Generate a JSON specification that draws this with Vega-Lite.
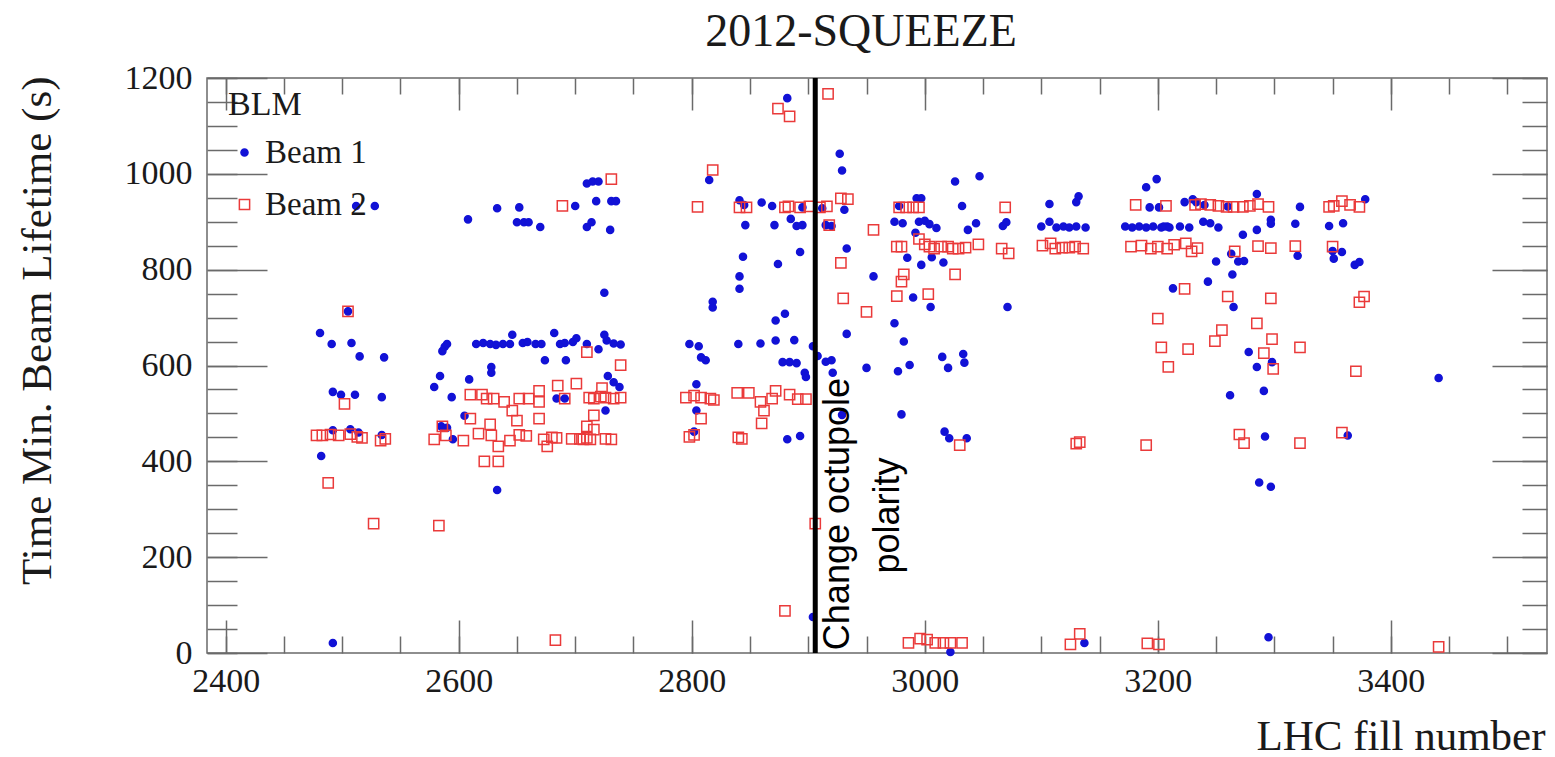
{
"$schema": "https://vega.github.io/schema/vega-lite/v6.json",
"width": 1340, "height": 575,
"autosize": "none",
"padding": {"left": 207, "top": 78, "right": 8, "bottom": 104},
"background": "white",
"config": {"view": {"stroke": "#6a6a6a", "strokeWidth": 1.5},
 "legend": {"orient": "none", "legendX": 21, "legendY": 10, "titleFont": "Liberation Serif", "titleFontSize": 34, "titleFontWeight": "normal", "titleColor": "#1a1a1a", "titlePadding": 14, "labelFont": "Liberation Serif", "labelFontSize": 33, "labelColor": "#1a1a1a", "labelOffset": 4, "symbolOffset": 0, "symbolStrokeWidth": 1.5, "rowPadding": 18, "padding": 0}},
"title": {"text": "2012-SQUEEZE", "font": "Liberation Serif", "fontSize": 46, "fontWeight": "normal", "color": "#1a1a1a", "anchor": "middle", "frame": "group", "dx": -16, "dy": 45, "offset": 14, "baseline": "alphabetic"},
"resolve": {"axis": {"x": "independent", "y": "independent"}},
"layer": [
{
"data": {"values": [
{"lhc_fill":2512,"lifetime":933,"beam":"Beam 1"},{"lhc_fill":2528,"lifetime":933,"beam":"Beam 1"},{"lhc_fill":2608,"lifetime":905,"beam":"Beam 1"},{"lhc_fill":2633,"lifetime":928,"beam":"Beam 1"},{"lhc_fill":2652,"lifetime":930,"beam":"Beam 1"},{"lhc_fill":2650,"lifetime":899,"beam":"Beam 1"},{"lhc_fill":2656,"lifetime":899,"beam":"Beam 1"},{"lhc_fill":2660,"lifetime":899,"beam":"Beam 1"},{"lhc_fill":2670,"lifetime":889,"beam":"Beam 1"},{"lhc_fill":2700,"lifetime":933,"beam":"Beam 1"},{"lhc_fill":2710,"lifetime":980,"beam":"Beam 1"},{"lhc_fill":2710,"lifetime":889,"beam":"Beam 1"},
{"lhc_fill":2505,"lifetime":713,"beam":"Beam 1"},{"lhc_fill":2481,"lifetime":668,"beam":"Beam 1"},{"lhc_fill":2491,"lifetime":645,"beam":"Beam 1"},{"lhc_fill":2508,"lifetime":647,"beam":"Beam 1"},{"lhc_fill":2515,"lifetime":619,"beam":"Beam 1"},{"lhc_fill":2536,"lifetime":617,"beam":"Beam 1"},{"lhc_fill":2492,"lifetime":545,"beam":"Beam 1"},{"lhc_fill":2499,"lifetime":539,"beam":"Beam 1"},{"lhc_fill":2511,"lifetime":539,"beam":"Beam 1"},{"lhc_fill":2534,"lifetime":534,"beam":"Beam 1"},{"lhc_fill":2482,"lifetime":411,"beam":"Beam 1"},
{"lhc_fill":2492,"lifetime":465,"beam":"Beam 1"},{"lhc_fill":2507,"lifetime":467,"beam":"Beam 1"},{"lhc_fill":2514,"lifetime":460,"beam":"Beam 1"},{"lhc_fill":2534,"lifetime":455,"beam":"Beam 1"},{"lhc_fill":2492,"lifetime":21,"beam":"Beam 1"},
{"lhc_fill":2588,"lifetime":639,"beam":"Beam 1"},{"lhc_fill":2590,"lifetime":645,"beam":"Beam 1"},{"lhc_fill":2586,"lifetime":630,"beam":"Beam 1"},{"lhc_fill":2584,"lifetime":578,"beam":"Beam 1"},{"lhc_fill":2579,"lifetime":555,"beam":"Beam 1"},{"lhc_fill":2594,"lifetime":534,"beam":"Beam 1"},{"lhc_fill":2609,"lifetime":571,"beam":"Beam 1"},{"lhc_fill":2605,"lifetime":495,"beam":"Beam 1"},{"lhc_fill":2585,"lifetime":473,"beam":"Beam 1"},{"lhc_fill":2590,"lifetime":470,"beam":"Beam 1"},{"lhc_fill":2595,"lifetime":446,"beam":"Beam 1"},{"lhc_fill":2628,"lifetime":597,"beam":"Beam 1"},{"lhc_fill":2628,"lifetime":585,"beam":"Beam 1"},{"lhc_fill":2633,"lifetime":340,"beam":"Beam 1"},
{"lhc_fill":2615,"lifetime":645,"beam":"Beam 1"},{"lhc_fill":2621,"lifetime":647,"beam":"Beam 1"},{"lhc_fill":2627,"lifetime":645,"beam":"Beam 1"},{"lhc_fill":2632,"lifetime":643,"beam":"Beam 1"},{"lhc_fill":2638,"lifetime":645,"beam":"Beam 1"},{"lhc_fill":2644,"lifetime":645,"beam":"Beam 1"},{"lhc_fill":2646,"lifetime":664,"beam":"Beam 1"},{"lhc_fill":2655,"lifetime":647,"beam":"Beam 1"},{"lhc_fill":2659,"lifetime":649,"beam":"Beam 1"},{"lhc_fill":2666,"lifetime":645,"beam":"Beam 1"},{"lhc_fill":2671,"lifetime":645,"beam":"Beam 1"},{"lhc_fill":2674,"lifetime":611,"beam":"Beam 1"},{"lhc_fill":2682,"lifetime":668,"beam":"Beam 1"},{"lhc_fill":2687,"lifetime":645,"beam":"Beam 1"},{"lhc_fill":2691,"lifetime":647,"beam":"Beam 1"},{"lhc_fill":2692,"lifetime":611,"beam":"Beam 1"},{"lhc_fill":2698,"lifetime":649,"beam":"Beam 1"},{"lhc_fill":2701,"lifetime":657,"beam":"Beam 1"},{"lhc_fill":2710,"lifetime":645,"beam":"Beam 1"},{"lhc_fill":2684,"lifetime":531,"beam":"Beam 1"},{"lhc_fill":2691,"lifetime":531,"beam":"Beam 1"},
{"lhc_fill":2882,"lifetime":1158,"beam":"Beam 1"},{"lhc_fill":2715,"lifetime":984,"beam":"Beam 1"},{"lhc_fill":2720,"lifetime":984,"beam":"Beam 1"},{"lhc_fill":2718,"lifetime":943,"beam":"Beam 1"},{"lhc_fill":2731,"lifetime":943,"beam":"Beam 1"},{"lhc_fill":2735,"lifetime":943,"beam":"Beam 1"},{"lhc_fill":2714,"lifetime":899,"beam":"Beam 1"},{"lhc_fill":2730,"lifetime":883,"beam":"Beam 1"},{"lhc_fill":2725,"lifetime":752,"beam":"Beam 1"},{"lhc_fill":2720,"lifetime":634,"beam":"Beam 1"},{"lhc_fill":2725,"lifetime":664,"beam":"Beam 1"},{"lhc_fill":2727,"lifetime":652,"beam":"Beam 1"},{"lhc_fill":2733,"lifetime":646,"beam":"Beam 1"},{"lhc_fill":2739,"lifetime":644,"beam":"Beam 1"},{"lhc_fill":2728,"lifetime":578,"beam":"Beam 1"},{"lhc_fill":2733,"lifetime":565,"beam":"Beam 1"},{"lhc_fill":2738,"lifetime":555,"beam":"Beam 1"},{"lhc_fill":2726,"lifetime":506,"beam":"Beam 1"},
{"lhc_fill":2815,"lifetime":987,"beam":"Beam 1"},{"lhc_fill":2841,"lifetime":945,"beam":"Beam 1"},{"lhc_fill":2845,"lifetime":935,"beam":"Beam 1"},{"lhc_fill":2860,"lifetime":940,"beam":"Beam 1"},{"lhc_fill":2869,"lifetime":933,"beam":"Beam 1"},{"lhc_fill":2885,"lifetime":906,"beam":"Beam 1"},{"lhc_fill":2890,"lifetime":891,"beam":"Beam 1"},{"lhc_fill":2895,"lifetime":893,"beam":"Beam 1"},{"lhc_fill":2915,"lifetime":893,"beam":"Beam 1"},{"lhc_fill":2920,"lifetime":891,"beam":"Beam 1"},{"lhc_fill":2846,"lifetime":893,"beam":"Beam 1"},{"lhc_fill":2871,"lifetime":893,"beam":"Beam 1"},{"lhc_fill":2931,"lifetime":925,"beam":"Beam 1"},{"lhc_fill":2927,"lifetime":1042,"beam":"Beam 1"},{"lhc_fill":2929,"lifetime":1007,"beam":"Beam 1"},{"lhc_fill":2933,"lifetime":844,"beam":"Beam 1"},{"lhc_fill":2956,"lifetime":786,"beam":"Beam 1"},{"lhc_fill":2844,"lifetime":827,"beam":"Beam 1"},{"lhc_fill":2841,"lifetime":786,"beam":"Beam 1"},{"lhc_fill":2841,"lifetime":760,"beam":"Beam 1"},{"lhc_fill":2874,"lifetime":812,"beam":"Beam 1"},{"lhc_fill":2893,"lifetime":837,"beam":"Beam 1"},{"lhc_fill":2818,"lifetime":733,"beam":"Beam 1"},{"lhc_fill":2818,"lifetime":721,"beam":"Beam 1"},{"lhc_fill":2872,"lifetime":694,"beam":"Beam 1"},{"lhc_fill":2880,"lifetime":708,"beam":"Beam 1"},{"lhc_fill":2798,"lifetime":645,"beam":"Beam 1"},{"lhc_fill":2806,"lifetime":640,"beam":"Beam 1"},{"lhc_fill":2808,"lifetime":617,"beam":"Beam 1"},{"lhc_fill":2812,"lifetime":611,"beam":"Beam 1"},{"lhc_fill":2840,"lifetime":645,"beam":"Beam 1"},{"lhc_fill":2859,"lifetime":646,"beam":"Beam 1"},{"lhc_fill":2872,"lifetime":652,"beam":"Beam 1"},{"lhc_fill":2888,"lifetime":653,"beam":"Beam 1"},{"lhc_fill":2904,"lifetime":640,"beam":"Beam 1"},{"lhc_fill":2908,"lifetime":620,"beam":"Beam 1"},{"lhc_fill":2915,"lifetime":608,"beam":"Beam 1"},{"lhc_fill":2920,"lifetime":611,"beam":"Beam 1"},{"lhc_fill":2878,"lifetime":607,"beam":"Beam 1"},{"lhc_fill":2884,"lifetime":607,"beam":"Beam 1"},{"lhc_fill":2890,"lifetime":605,"beam":"Beam 1"},{"lhc_fill":2897,"lifetime":585,"beam":"Beam 1"},{"lhc_fill":2898,"lifetime":576,"beam":"Beam 1"},{"lhc_fill":2921,"lifetime":585,"beam":"Beam 1"},{"lhc_fill":2950,"lifetime":595,"beam":"Beam 1"},{"lhc_fill":2933,"lifetime":666,"beam":"Beam 1"},{"lhc_fill":2804,"lifetime":561,"beam":"Beam 1"},{"lhc_fill":2804,"lifetime":506,"beam":"Beam 1"},{"lhc_fill":2802,"lifetime":462,"beam":"Beam 1"},{"lhc_fill":2882,"lifetime":446,"beam":"Beam 1"},{"lhc_fill":2893,"lifetime":453,"beam":"Beam 1"},{"lhc_fill":2929,"lifetime":497,"beam":"Beam 1"},{"lhc_fill":2904,"lifetime":75,"beam":"Beam 1"},{"lhc_fill":2895,"lifetime":930,"beam":"Beam 1"},{"lhc_fill":2912,"lifetime":928,"beam":"Beam 1"},
{"lhc_fill":3026,"lifetime":984,"beam":"Beam 1"},{"lhc_fill":3047,"lifetime":995,"beam":"Beam 1"},{"lhc_fill":2993,"lifetime":949,"beam":"Beam 1"},{"lhc_fill":2997,"lifetime":949,"beam":"Beam 1"},{"lhc_fill":2978,"lifetime":933,"beam":"Beam 1"},{"lhc_fill":3032,"lifetime":933,"beam":"Beam 1"},{"lhc_fill":2974,"lifetime":900,"beam":"Beam 1"},{"lhc_fill":2981,"lifetime":897,"beam":"Beam 1"},{"lhc_fill":2995,"lifetime":900,"beam":"Beam 1"},{"lhc_fill":3000,"lifetime":902,"beam":"Beam 1"},{"lhc_fill":3004,"lifetime":895,"beam":"Beam 1"},{"lhc_fill":3010,"lifetime":887,"beam":"Beam 1"},{"lhc_fill":2992,"lifetime":877,"beam":"Beam 1"},{"lhc_fill":3037,"lifetime":883,"beam":"Beam 1"},{"lhc_fill":3044,"lifetime":897,"beam":"Beam 1"},{"lhc_fill":3067,"lifetime":891,"beam":"Beam 1"},{"lhc_fill":3070,"lifetime":899,"beam":"Beam 1"},{"lhc_fill":3107,"lifetime":937,"beam":"Beam 1"},{"lhc_fill":3132,"lifetime":953,"beam":"Beam 1"},{"lhc_fill":3130,"lifetime":941,"beam":"Beam 1"},{"lhc_fill":3100,"lifetime":890,"beam":"Beam 1"},{"lhc_fill":3107,"lifetime":900,"beam":"Beam 1"},{"lhc_fill":3113,"lifetime":888,"beam":"Beam 1"},{"lhc_fill":3119,"lifetime":890,"beam":"Beam 1"},{"lhc_fill":3124,"lifetime":888,"beam":"Beam 1"},{"lhc_fill":3130,"lifetime":890,"beam":"Beam 1"},{"lhc_fill":3138,"lifetime":888,"beam":"Beam 1"},{"lhc_fill":3190,"lifetime":972,"beam":"Beam 1"},{"lhc_fill":3199,"lifetime":989,"beam":"Beam 1"},{"lhc_fill":3193,"lifetime":930,"beam":"Beam 1"},{"lhc_fill":3201,"lifetime":930,"beam":"Beam 1"},{"lhc_fill":3172,"lifetime":890,"beam":"Beam 1"},{"lhc_fill":3178,"lifetime":888,"beam":"Beam 1"},{"lhc_fill":3184,"lifetime":890,"beam":"Beam 1"},{"lhc_fill":3190,"lifetime":888,"beam":"Beam 1"},{"lhc_fill":3196,"lifetime":890,"beam":"Beam 1"},{"lhc_fill":3203,"lifetime":888,"beam":"Beam 1"},{"lhc_fill":3208,"lifetime":890,"beam":"Beam 1"},
{"lhc_fill":2985,"lifetime":825,"beam":"Beam 1"},{"lhc_fill":2997,"lifetime":810,"beam":"Beam 1"},{"lhc_fill":3006,"lifetime":826,"beam":"Beam 1"},{"lhc_fill":3016,"lifetime":815,"beam":"Beam 1"},{"lhc_fill":2990,"lifetime":742,"beam":"Beam 1"},{"lhc_fill":3005,"lifetime":722,"beam":"Beam 1"},{"lhc_fill":3071,"lifetime":722,"beam":"Beam 1"},{"lhc_fill":2974,"lifetime":688,"beam":"Beam 1"},{"lhc_fill":2982,"lifetime":650,"beam":"Beam 1"},{"lhc_fill":2977,"lifetime":588,"beam":"Beam 1"},{"lhc_fill":2987,"lifetime":601,"beam":"Beam 1"},{"lhc_fill":3015,"lifetime":618,"beam":"Beam 1"},{"lhc_fill":3020,"lifetime":595,"beam":"Beam 1"},{"lhc_fill":3033,"lifetime":624,"beam":"Beam 1"},{"lhc_fill":3034,"lifetime":606,"beam":"Beam 1"},{"lhc_fill":2980,"lifetime":498,"beam":"Beam 1"},{"lhc_fill":3017,"lifetime":462,"beam":"Beam 1"},{"lhc_fill":3021,"lifetime":448,"beam":"Beam 1"},{"lhc_fill":3036,"lifetime":448,"beam":"Beam 1"},{"lhc_fill":3022,"lifetime":2,"beam":"Beam 1"},{"lhc_fill":3137,"lifetime":21,"beam":"Beam 1"},
{"lhc_fill":3285,"lifetime":958,"beam":"Beam 1"},{"lhc_fill":3378,"lifetime":947,"beam":"Beam 1"},{"lhc_fill":3322,"lifetime":931,"beam":"Beam 1"},{"lhc_fill":3223,"lifetime":941,"beam":"Beam 1"},{"lhc_fill":3230,"lifetime":947,"beam":"Beam 1"},{"lhc_fill":3233,"lifetime":941,"beam":"Beam 1"},{"lhc_fill":3205,"lifetime":890,"beam":"Beam 1"},{"lhc_fill":3210,"lifetime":888,"beam":"Beam 1"},{"lhc_fill":3219,"lifetime":890,"beam":"Beam 1"},{"lhc_fill":3227,"lifetime":888,"beam":"Beam 1"},{"lhc_fill":3239,"lifetime":900,"beam":"Beam 1"},{"lhc_fill":3245,"lifetime":897,"beam":"Beam 1"},{"lhc_fill":3252,"lifetime":888,"beam":"Beam 1"},{"lhc_fill":3273,"lifetime":873,"beam":"Beam 1"},{"lhc_fill":3285,"lifetime":883,"beam":"Beam 1"},{"lhc_fill":3297,"lifetime":904,"beam":"Beam 1"},{"lhc_fill":3297,"lifetime":896,"beam":"Beam 1"},{"lhc_fill":3318,"lifetime":896,"beam":"Beam 1"},{"lhc_fill":3347,"lifetime":891,"beam":"Beam 1"},{"lhc_fill":3359,"lifetime":897,"beam":"Beam 1"},{"lhc_fill":3250,"lifetime":817,"beam":"Beam 1"},{"lhc_fill":3263,"lifetime":833,"beam":"Beam 1"},{"lhc_fill":3269,"lifetime":817,"beam":"Beam 1"},{"lhc_fill":3274,"lifetime":818,"beam":"Beam 1"},{"lhc_fill":3264,"lifetime":790,"beam":"Beam 1"},{"lhc_fill":3243,"lifetime":775,"beam":"Beam 1"},{"lhc_fill":3320,"lifetime":829,"beam":"Beam 1"},{"lhc_fill":3350,"lifetime":839,"beam":"Beam 1"},{"lhc_fill":3351,"lifetime":823,"beam":"Beam 1"},{"lhc_fill":3358,"lifetime":837,"beam":"Beam 1"},{"lhc_fill":3369,"lifetime":810,"beam":"Beam 1"},{"lhc_fill":3373,"lifetime":816,"beam":"Beam 1"},{"lhc_fill":3213,"lifetime":761,"beam":"Beam 1"},{"lhc_fill":3265,"lifetime":722,"beam":"Beam 1"},{"lhc_fill":3278,"lifetime":628,"beam":"Beam 1"},{"lhc_fill":3285,"lifetime":597,"beam":"Beam 1"},{"lhc_fill":3298,"lifetime":607,"beam":"Beam 1"},{"lhc_fill":3262,"lifetime":538,"beam":"Beam 1"},{"lhc_fill":3291,"lifetime":547,"beam":"Beam 1"},{"lhc_fill":3292,"lifetime":452,"beam":"Beam 1"},{"lhc_fill":3363,"lifetime":454,"beam":"Beam 1"},{"lhc_fill":3287,"lifetime":356,"beam":"Beam 1"},{"lhc_fill":3297,"lifetime":347,"beam":"Beam 1"},{"lhc_fill":3441,"lifetime":574,"beam":"Beam 1"},{"lhc_fill":3295,"lifetime":33,"beam":"Beam 1"},{"lhc_fill":3240,"lifetime":935,"beam":"Beam 1"},{"lhc_fill":3260,"lifetime":932,"beam":"Beam 1"},
{"lhc_fill":2505,"lifetime":713,"beam":"Beam 2"},{"lhc_fill":2502,"lifetime":520,"beam":"Beam 2"},{"lhc_fill":2478,"lifetime":454,"beam":"Beam 2"},{"lhc_fill":2483,"lifetime":454,"beam":"Beam 2"},{"lhc_fill":2490,"lifetime":456,"beam":"Beam 2"},{"lhc_fill":2497,"lifetime":454,"beam":"Beam 2"},{"lhc_fill":2507,"lifetime":457,"beam":"Beam 2"},{"lhc_fill":2513,"lifetime":451,"beam":"Beam 2"},{"lhc_fill":2517,"lifetime":449,"beam":"Beam 2"},{"lhc_fill":2533,"lifetime":443,"beam":"Beam 2"},{"lhc_fill":2537,"lifetime":447,"beam":"Beam 2"},{"lhc_fill":2488,"lifetime":355,"beam":"Beam 2"},{"lhc_fill":2527,"lifetime":270,"beam":"Beam 2"},{"lhc_fill":2583,"lifetime":266,"beam":"Beam 2"},{"lhc_fill":2683,"lifetime":27,"beam":"Beam 2"},{"lhc_fill":2689,"lifetime":933,"beam":"Beam 2"},
{"lhc_fill":2579,"lifetime":446,"beam":"Beam 2"},{"lhc_fill":2586,"lifetime":473,"beam":"Beam 2"},{"lhc_fill":2589,"lifetime":454,"beam":"Beam 2"},{"lhc_fill":2604,"lifetime":443,"beam":"Beam 2"},{"lhc_fill":2610,"lifetime":539,"beam":"Beam 2"},{"lhc_fill":2610,"lifetime":489,"beam":"Beam 2"},{"lhc_fill":2620,"lifetime":539,"beam":"Beam 2"},{"lhc_fill":2624,"lifetime":531,"beam":"Beam 2"},{"lhc_fill":2630,"lifetime":531,"beam":"Beam 2"},{"lhc_fill":2617,"lifetime":458,"beam":"Beam 2"},{"lhc_fill":2627,"lifetime":477,"beam":"Beam 2"},{"lhc_fill":2628,"lifetime":454,"beam":"Beam 2"},{"lhc_fill":2634,"lifetime":431,"beam":"Beam 2"},{"lhc_fill":2622,"lifetime":400,"beam":"Beam 2"},{"lhc_fill":2634,"lifetime":400,"beam":"Beam 2"},{"lhc_fill":2639,"lifetime":524,"beam":"Beam 2"},{"lhc_fill":2646,"lifetime":506,"beam":"Beam 2"},{"lhc_fill":2650,"lifetime":485,"beam":"Beam 2"},{"lhc_fill":2652,"lifetime":531,"beam":"Beam 2"},{"lhc_fill":2660,"lifetime":531,"beam":"Beam 2"},{"lhc_fill":2644,"lifetime":443,"beam":"Beam 2"},{"lhc_fill":2652,"lifetime":455,"beam":"Beam 2"},{"lhc_fill":2658,"lifetime":453,"beam":"Beam 2"},{"lhc_fill":2669,"lifetime":547,"beam":"Beam 2"},{"lhc_fill":2669,"lifetime":524,"beam":"Beam 2"},{"lhc_fill":2669,"lifetime":489,"beam":"Beam 2"},{"lhc_fill":2673,"lifetime":446,"beam":"Beam 2"},{"lhc_fill":2676,"lifetime":431,"beam":"Beam 2"},{"lhc_fill":2680,"lifetime":450,"beam":"Beam 2"},{"lhc_fill":2684,"lifetime":449,"beam":"Beam 2"},{"lhc_fill":2685,"lifetime":558,"beam":"Beam 2"},{"lhc_fill":2691,"lifetime":531,"beam":"Beam 2"},{"lhc_fill":2701,"lifetime":562,"beam":"Beam 2"},{"lhc_fill":2697,"lifetime":447,"beam":"Beam 2"},{"lhc_fill":2704,"lifetime":447,"beam":"Beam 2"},{"lhc_fill":2710,"lifetime":449,"beam":"Beam 2"},{"lhc_fill":2710,"lifetime":628,"beam":"Beam 2"},{"lhc_fill":2712,"lifetime":533,"beam":"Beam 2"},
{"lhc_fill":2917,"lifetime":1167,"beam":"Beam 2"},{"lhc_fill":2874,"lifetime":1136,"beam":"Beam 2"},{"lhc_fill":2884,"lifetime":1120,"beam":"Beam 2"},{"lhc_fill":2731,"lifetime":989,"beam":"Beam 2"},{"lhc_fill":2818,"lifetime":1008,"beam":"Beam 2"},{"lhc_fill":2805,"lifetime":931,"beam":"Beam 2"},{"lhc_fill":2841,"lifetime":930,"beam":"Beam 2"},{"lhc_fill":2847,"lifetime":930,"beam":"Beam 2"},{"lhc_fill":2880,"lifetime":930,"beam":"Beam 2"},{"lhc_fill":2883,"lifetime":932,"beam":"Beam 2"},{"lhc_fill":2893,"lifetime":930,"beam":"Beam 2"},{"lhc_fill":2901,"lifetime":932,"beam":"Beam 2"},{"lhc_fill":2910,"lifetime":930,"beam":"Beam 2"},{"lhc_fill":2916,"lifetime":932,"beam":"Beam 2"},{"lhc_fill":2928,"lifetime":949,"beam":"Beam 2"},{"lhc_fill":2934,"lifetime":947,"beam":"Beam 2"},{"lhc_fill":2918,"lifetime":893,"beam":"Beam 2"},{"lhc_fill":2956,"lifetime":883,"beam":"Beam 2"},{"lhc_fill":2928,"lifetime":814,"beam":"Beam 2"},{"lhc_fill":2930,"lifetime":740,"beam":"Beam 2"},{"lhc_fill":2950,"lifetime":712,"beam":"Beam 2"},{"lhc_fill":2739,"lifetime":601,"beam":"Beam 2"},{"lhc_fill":2716,"lifetime":531,"beam":"Beam 2"},{"lhc_fill":2722,"lifetime":535,"beam":"Beam 2"},{"lhc_fill":2726,"lifetime":533,"beam":"Beam 2"},{"lhc_fill":2733,"lifetime":531,"beam":"Beam 2"},{"lhc_fill":2739,"lifetime":533,"beam":"Beam 2"},{"lhc_fill":2723,"lifetime":553,"beam":"Beam 2"},{"lhc_fill":2716,"lifetime":496,"beam":"Beam 2"},{"lhc_fill":2710,"lifetime":473,"beam":"Beam 2"},{"lhc_fill":2716,"lifetime":466,"beam":"Beam 2"},{"lhc_fill":2707,"lifetime":446,"beam":"Beam 2"},{"lhc_fill":2713,"lifetime":446,"beam":"Beam 2"},{"lhc_fill":2726,"lifetime":447,"beam":"Beam 2"},{"lhc_fill":2731,"lifetime":446,"beam":"Beam 2"},{"lhc_fill":2795,"lifetime":533,"beam":"Beam 2"},{"lhc_fill":2802,"lifetime":537,"beam":"Beam 2"},{"lhc_fill":2808,"lifetime":533,"beam":"Beam 2"},{"lhc_fill":2816,"lifetime":531,"beam":"Beam 2"},{"lhc_fill":2819,"lifetime":528,"beam":"Beam 2"},{"lhc_fill":2808,"lifetime":489,"beam":"Beam 2"},{"lhc_fill":2798,"lifetime":451,"beam":"Beam 2"},{"lhc_fill":2802,"lifetime":455,"beam":"Beam 2"},{"lhc_fill":2839,"lifetime":543,"beam":"Beam 2"},{"lhc_fill":2849,"lifetime":543,"beam":"Beam 2"},{"lhc_fill":2859,"lifetime":524,"beam":"Beam 2"},{"lhc_fill":2862,"lifetime":506,"beam":"Beam 2"},{"lhc_fill":2860,"lifetime":479,"beam":"Beam 2"},{"lhc_fill":2872,"lifetime":547,"beam":"Beam 2"},{"lhc_fill":2869,"lifetime":531,"beam":"Beam 2"},{"lhc_fill":2884,"lifetime":539,"beam":"Beam 2"},{"lhc_fill":2891,"lifetime":530,"beam":"Beam 2"},{"lhc_fill":2898,"lifetime":530,"beam":"Beam 2"},{"lhc_fill":2840,"lifetime":450,"beam":"Beam 2"},{"lhc_fill":2843,"lifetime":447,"beam":"Beam 2"},{"lhc_fill":2906,"lifetime":270,"beam":"Beam 2"},{"lhc_fill":2880,"lifetime":88,"beam":"Beam 2"},
{"lhc_fill":2978,"lifetime":930,"beam":"Beam 2"},{"lhc_fill":2984,"lifetime":930,"beam":"Beam 2"},{"lhc_fill":2990,"lifetime":930,"beam":"Beam 2"},{"lhc_fill":2995,"lifetime":930,"beam":"Beam 2"},{"lhc_fill":2976,"lifetime":848,"beam":"Beam 2"},{"lhc_fill":2980,"lifetime":848,"beam":"Beam 2"},{"lhc_fill":2995,"lifetime":864,"beam":"Beam 2"},{"lhc_fill":3000,"lifetime":853,"beam":"Beam 2"},{"lhc_fill":3004,"lifetime":848,"beam":"Beam 2"},{"lhc_fill":3008,"lifetime":844,"beam":"Beam 2"},{"lhc_fill":3014,"lifetime":848,"beam":"Beam 2"},{"lhc_fill":3020,"lifetime":848,"beam":"Beam 2"},{"lhc_fill":3024,"lifetime":844,"beam":"Beam 2"},{"lhc_fill":3029,"lifetime":844,"beam":"Beam 2"},{"lhc_fill":3035,"lifetime":846,"beam":"Beam 2"},{"lhc_fill":3046,"lifetime":853,"beam":"Beam 2"},{"lhc_fill":3026,"lifetime":790,"beam":"Beam 2"},{"lhc_fill":2982,"lifetime":790,"beam":"Beam 2"},{"lhc_fill":2980,"lifetime":775,"beam":"Beam 2"},{"lhc_fill":2976,"lifetime":745,"beam":"Beam 2"},{"lhc_fill":3003,"lifetime":749,"beam":"Beam 2"},{"lhc_fill":3069,"lifetime":930,"beam":"Beam 2"},{"lhc_fill":3066,"lifetime":844,"beam":"Beam 2"},{"lhc_fill":3072,"lifetime":834,"beam":"Beam 2"},{"lhc_fill":3101,"lifetime":850,"beam":"Beam 2"},{"lhc_fill":3108,"lifetime":855,"beam":"Beam 2"},{"lhc_fill":3112,"lifetime":844,"beam":"Beam 2"},{"lhc_fill":3118,"lifetime":846,"beam":"Beam 2"},{"lhc_fill":3124,"lifetime":846,"beam":"Beam 2"},{"lhc_fill":3129,"lifetime":848,"beam":"Beam 2"},{"lhc_fill":3136,"lifetime":844,"beam":"Beam 2"},{"lhc_fill":3181,"lifetime":935,"beam":"Beam 2"},{"lhc_fill":3177,"lifetime":848,"beam":"Beam 2"},{"lhc_fill":3186,"lifetime":850,"beam":"Beam 2"},{"lhc_fill":3194,"lifetime":844,"beam":"Beam 2"},{"lhc_fill":3200,"lifetime":848,"beam":"Beam 2"},{"lhc_fill":3208,"lifetime":844,"beam":"Beam 2"},{"lhc_fill":3030,"lifetime":434,"beam":"Beam 2"},{"lhc_fill":3130,"lifetime":437,"beam":"Beam 2"},{"lhc_fill":3133,"lifetime":440,"beam":"Beam 2"},{"lhc_fill":3190,"lifetime":434,"beam":"Beam 2"},{"lhc_fill":3200,"lifetime":698,"beam":"Beam 2"},{"lhc_fill":3203,"lifetime":638,"beam":"Beam 2"},{"lhc_fill":3209,"lifetime":597,"beam":"Beam 2"},{"lhc_fill":2986,"lifetime":21,"beam":"Beam 2"},{"lhc_fill":2996,"lifetime":30,"beam":"Beam 2"},{"lhc_fill":3002,"lifetime":28,"beam":"Beam 2"},{"lhc_fill":3009,"lifetime":21,"beam":"Beam 2"},{"lhc_fill":3016,"lifetime":21,"beam":"Beam 2"},{"lhc_fill":3022,"lifetime":21,"beam":"Beam 2"},{"lhc_fill":3032,"lifetime":21,"beam":"Beam 2"},{"lhc_fill":3133,"lifetime":40,"beam":"Beam 2"},{"lhc_fill":3125,"lifetime":18,"beam":"Beam 2"},{"lhc_fill":3191,"lifetime":20,"beam":"Beam 2"},{"lhc_fill":3201,"lifetime":18,"beam":"Beam 2"},
{"lhc_fill":3207,"lifetime":933,"beam":"Beam 2"},{"lhc_fill":3232,"lifetime":935,"beam":"Beam 2"},{"lhc_fill":3237,"lifetime":937,"beam":"Beam 2"},{"lhc_fill":3245,"lifetime":935,"beam":"Beam 2"},{"lhc_fill":3252,"lifetime":933,"beam":"Beam 2"},{"lhc_fill":3259,"lifetime":931,"beam":"Beam 2"},{"lhc_fill":3265,"lifetime":931,"beam":"Beam 2"},{"lhc_fill":3273,"lifetime":931,"beam":"Beam 2"},{"lhc_fill":3279,"lifetime":933,"beam":"Beam 2"},{"lhc_fill":3286,"lifetime":937,"beam":"Beam 2"},{"lhc_fill":3295,"lifetime":931,"beam":"Beam 2"},{"lhc_fill":3347,"lifetime":931,"beam":"Beam 2"},{"lhc_fill":3351,"lifetime":933,"beam":"Beam 2"},{"lhc_fill":3358,"lifetime":943,"beam":"Beam 2"},{"lhc_fill":3365,"lifetime":935,"beam":"Beam 2"},{"lhc_fill":3373,"lifetime":931,"beam":"Beam 2"},{"lhc_fill":3214,"lifetime":852,"beam":"Beam 2"},{"lhc_fill":3224,"lifetime":855,"beam":"Beam 2"},{"lhc_fill":3229,"lifetime":838,"beam":"Beam 2"},{"lhc_fill":3234,"lifetime":845,"beam":"Beam 2"},{"lhc_fill":3286,"lifetime":849,"beam":"Beam 2"},{"lhc_fill":3297,"lifetime":845,"beam":"Beam 2"},{"lhc_fill":3318,"lifetime":849,"beam":"Beam 2"},{"lhc_fill":3350,"lifetime":848,"beam":"Beam 2"},{"lhc_fill":3266,"lifetime":838,"beam":"Beam 2"},{"lhc_fill":3223,"lifetime":760,"beam":"Beam 2"},{"lhc_fill":3260,"lifetime":744,"beam":"Beam 2"},{"lhc_fill":3297,"lifetime":740,"beam":"Beam 2"},{"lhc_fill":3373,"lifetime":732,"beam":"Beam 2"},{"lhc_fill":3377,"lifetime":744,"beam":"Beam 2"},{"lhc_fill":3285,"lifetime":688,"beam":"Beam 2"},{"lhc_fill":3255,"lifetime":674,"beam":"Beam 2"},{"lhc_fill":3249,"lifetime":651,"beam":"Beam 2"},{"lhc_fill":3298,"lifetime":655,"beam":"Beam 2"},{"lhc_fill":3226,"lifetime":634,"beam":"Beam 2"},{"lhc_fill":3291,"lifetime":626,"beam":"Beam 2"},{"lhc_fill":3322,"lifetime":638,"beam":"Beam 2"},{"lhc_fill":3299,"lifetime":593,"beam":"Beam 2"},{"lhc_fill":3370,"lifetime":588,"beam":"Beam 2"},{"lhc_fill":3270,"lifetime":456,"beam":"Beam 2"},{"lhc_fill":3274,"lifetime":438,"beam":"Beam 2"},{"lhc_fill":3322,"lifetime":438,"beam":"Beam 2"},{"lhc_fill":3358,"lifetime":460,"beam":"Beam 2"},{"lhc_fill":3441,"lifetime":13,"beam":"Beam 2"}
]},
"mark": {"type": "point", "strokeWidth": 1.5, "opacity": 1},
"encoding": {
"x": {"field": "lhc_fill", "type": "quantitative", "scale": {"domain": [2384, 3534], "nice": false, "zero": false},
 "axis": {"orient": "bottom", "values": [2400, 2600, 2800, 3000, 3200, 3400], "format": "d", "domain": false, "grid": false, "tickSize": -33, "tickColor": "#6a6a6a", "tickWidth": 1.5, "labelFont": "Liberation Serif", "labelFontSize": 34, "labelColor": "#1a1a1a", "labelPadding": 44, "labelFlush": false, "labelOverlap": false, "title": "LHC fill number", "titleFont": "Liberation Serif", "titleFontSize": 43, "titleFontWeight": "normal", "titleColor": "#1a1a1a", "titleX": 1338, "titleY": 96, "titleAlign": "right", "titleAnchor": null, "titleBaseline": "alphabetic"}},
"y": {"field": "lifetime", "type": "quantitative", "scale": {"domain": [0, 1200], "nice": false},
 "axis": {"orient": "left", "values": [0, 200, 400, 600, 800, 1000, 1200], "format": "d", "domain": false, "grid": false, "tickSize": -60, "tickColor": "#6a6a6a", "tickWidth": 1.5, "labelFont": "Liberation Serif", "labelFontSize": 34, "labelColor": "#1a1a1a", "labelPadding": 75, "labelFlush": false, "labelOverlap": false, "title": "Time Min. Beam Lifetime (s)", "titleFont": "Liberation Serif", "titleFontSize": 43, "titleFontWeight": "normal", "titleColor": "#1a1a1a", "titleAngle": 270, "titleX": -157, "titleY": -2, "titleAlign": "right", "titleBaseline": "alphabetic"}},
"shape": {"field": "beam", "type": "nominal", "scale": {"domain": ["Beam 1", "Beam 2"], "range": ["circle", "square"]}, "legend": {"title": "BLM"}},
"fill": {"field": "beam", "type": "nominal", "scale": {"domain": ["Beam 1", "Beam 2"], "range": ["#1212d6", "transparent"]}, "legend": {"title": "BLM"}},
"stroke": {"field": "beam", "type": "nominal", "scale": {"domain": ["Beam 1", "Beam 2"], "range": ["#1212d6", "#ea3a3a"]}, "legend": {"title": "BLM"}},
"size": {"field": "beam", "type": "nominal", "scale": {"type": "ordinal", "domain": ["Beam 1", "Beam 2"], "range": [50, 105]}, "legend": {"title": "BLM"}}
}
},
{
"data": {"values": [{}]},
"mark": {"type": "rule", "color": "black", "strokeWidth": 5},
"encoding": {
"x": {"datum": 2906, "type": "quantitative", "axis": {"orient": "bottom", "values": [2400,2450,2500,2550,2600,2650,2700,2750,2800,2850,2900,2950,3000,3050,3100,3150,3200,3250,3300,3350,3400,3450,3500], "domain": false, "grid": false, "labels": false, "title": null, "tickSize": -17, "tickColor": "#6a6a6a", "tickWidth": 1.5}},
"y": {"datum": 0, "type": "quantitative", "axis": {"orient": "left", "values": [0,50,100,150,200,250,300,350,400,450,500,550,600,650,700,750,800,850,900,950,1000,1050,1100,1150,1200], "domain": false, "grid": false, "labels": false, "title": null, "tickSize": -30, "tickColor": "#6a6a6a", "tickWidth": 1.5}},
"y2": {"datum": 1200}
}
},
{
"data": {"values": [{}]},
"mark": {"type": "text", "text": "Change octupole", "font": "Liberation Sans", "fontSize": 36, "angle": 270, "align": "center", "baseline": "alphabetic", "color": "black"},
"encoding": {
"x": {"datum": 2935, "type": "quantitative", "axis": {"orient": "top", "values": [2400, 2600, 2800, 3000, 3200, 3400], "domain": false, "grid": false, "labels": false, "title": null, "tickSize": -32, "tickColor": "#6a6a6a", "tickWidth": 1.5}},
"y": {"datum": 290, "type": "quantitative", "axis": {"orient": "right", "values": [0, 200, 400, 600, 800, 1000, 1200], "domain": false, "grid": false, "labels": false, "title": null, "tickSize": -55, "tickColor": "#6a6a6a", "tickWidth": 1.5}}
}
},
{
"data": {"values": [{}]},
"mark": {"type": "text", "text": "polarity", "font": "Liberation Sans", "fontSize": 36, "angle": 270, "align": "center", "baseline": "alphabetic", "color": "black"},
"encoding": {
"x": {"datum": 2978, "type": "quantitative", "axis": {"orient": "top", "values": [2400,2450,2500,2550,2600,2650,2700,2750,2800,2850,2900,2950,3000,3050,3100,3150,3200,3250,3300,3350,3400,3450,3500], "domain": false, "grid": false, "labels": false, "title": null, "tickSize": -16, "tickColor": "#6a6a6a", "tickWidth": 1.5}},
"y": {"datum": 287, "type": "quantitative", "axis": {"orient": "right", "values": [0,50,100,150,200,250,300,350,400,450,500,550,600,650,700,750,800,850,900,950,1000,1050,1100,1150,1200], "domain": false, "grid": false, "labels": false, "title": null, "tickSize": -25, "tickColor": "#6a6a6a", "tickWidth": 1.5}}
}
}
]
}
